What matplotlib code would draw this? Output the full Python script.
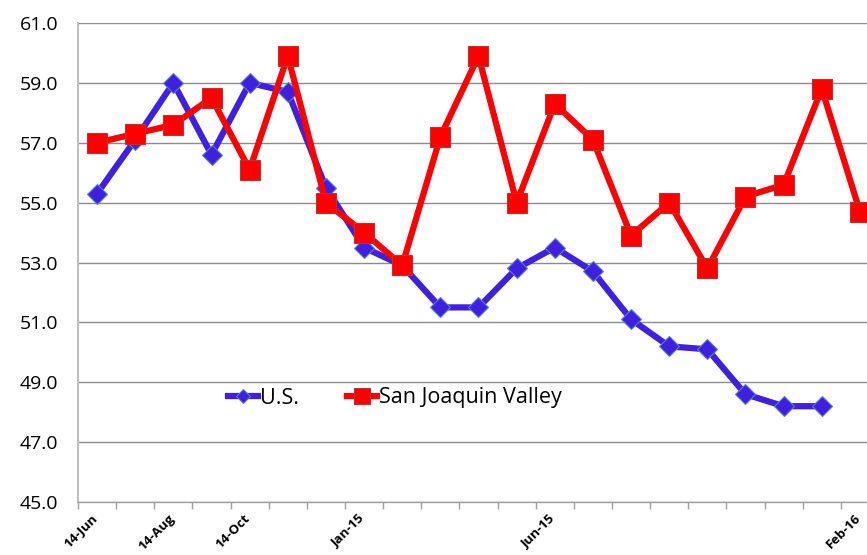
import matplotlib
matplotlib.use("Agg")
import matplotlib.pyplot as plt
import matplotlib.transforms as mtransforms
import numpy as np

months = ["14-Jun", "14-Jul", "14-Aug", "14-Sep", "14-Oct", "14-Nov", "14-Dec",
          "Jan-15", "Feb-15", "Mar-15", "Apr-15", "May-15", "Jun-15", "Jul-15",
          "Aug-15", "Sep-15", "Oct-15", "Nov-15", "Dec-15", "Jan-16", "Feb-16"]
shown_labels = ["14-Jun", "14-Aug", "14-Oct", "Jan-15", "Jun-15", "Feb-16"]

us = [55.3, 57.1, 59.0, 56.6, 59.0, 58.7, 55.5, 53.5, 52.9, 51.5, 51.5, 52.8,
      53.5, 52.7, 51.1, 50.2, 50.1, 48.6, 48.2, 48.2]
sjv = [57.0, 57.3, 57.6, 58.5, 56.1, 59.9, 55.0, 54.0, 52.9, 57.2, 59.9, 55.0,
       58.3, 57.1, 53.9, 55.0, 52.8, 55.2, 55.6, 58.8, 54.7]

plt.rcParams['font.family'] = ['Open Sans', 'DejaVu Sans']

fig = plt.figure(figsize=(8.67, 5.55), dpi=100)
ax = fig.add_axes([78/867, 1-502/555, 801/867, 479/555])

x_us = np.arange(len(us))
x_sjv = np.arange(len(sjv))

ax.plot(x_us, us, color="#4020E0", lw=4.5, marker="D", markersize=10,
        markerfacecolor="#4020E0", markeredgecolor="#5B7FC8", markeredgewidth=0.8,
        label="U.S.", zorder=3)
ax.plot(x_sjv, sjv, color="#FF0000", lw=4.5, marker="s", markersize=15,
        markerfacecolor="#FF0000", markeredgecolor="#C03030", markeredgewidth=0.8,
        label="San Joaquin Valley", zorder=4, clip_on=True)

ax.set_ylim(45, 61)
ax.set_yticks(np.arange(45, 61.1, 2))
ax.set_yticklabels([f"{v:.1f}" for v in np.arange(45, 61.1, 2)], fontsize=14)
ax.set_xlim(-0.5, len(months) - 0.5)

pos = [months.index(m) for m in shown_labels]
ax.set_xticks(pos)
ax.set_xticklabels(shown_labels, rotation=45, ha="right", va="top",
                   fontsize=9.5, fontweight="bold", rotation_mode="anchor")
ax.tick_params(axis="x", which="major", length=0, pad=7)
offset = mtransforms.ScaledTranslation(-6 / 100, 0, fig.dpi_scale_trans)
for lbl in ax.get_xticklabels():
    lbl.set_transform(lbl.get_transform() + offset)
ax.set_xticks(np.arange(-0.5, len(months), 1), minor=True)
ax.tick_params(axis="x", which="minor", length=5, color="#A0A0A0", width=1)
ax.tick_params(axis="y", length=0, pad=14)

ax.grid(axis="y", color="#8C8C8C", lw=1)
ax.set_axisbelow(True)
for s in ["top", "right"]:
    ax.spines[s].set_visible(False)
ax.spines["left"].set_color("#BFBFBF")
ax.spines["left"].set_linewidth(1.5)
ax.spines["bottom"].set_color("#A0A0A0")
ax.spines["bottom"].set_linewidth(1)

leg = ax.legend(loc="center left", bbox_to_anchor=((228 - 78) / 801, (502 - 398) / 479),
                ncol=2, frameon=False, fontsize=15.5, handlelength=1.4,
                handletextpad=0.1, columnspacing=2.2, markerscale=0.75,
                borderaxespad=0, borderpad=0)

fig.savefig("out.png", dpi=100)
